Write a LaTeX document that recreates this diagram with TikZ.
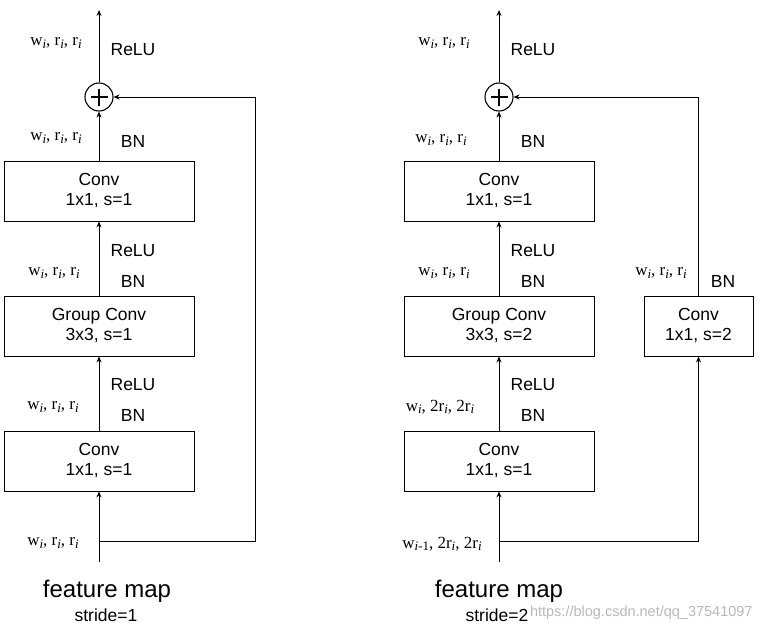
\documentclass[tikz,border=0pt]{standalone}
\usepackage{fontspec}
\setmainfont{Liberation Sans}
\newfontfamily\serifw{Liberation Serif}
\usetikzlibrary{arrows.meta}
\newcommand\sbi[1]{\raisebox{-0.3ex}{\fontsize{13}{13}\selectfont\textit{#1}}}
\newcommand\sbim{\raisebox{-0.3ex}{\fontsize{13}{13}\selectfont\textit{i}-1}}
\newcommand\wrr{w\sbi{i}, r\sbi{i}, r\sbi{i}}
\begin{document}
\begin{tikzpicture}[x=1pt,y=-1pt,
  line width=0.9pt,
  arr/.style={-{Stealth[length=6pt,width=5pt]}},
  blk/.style={draw,rectangle,minimum width=190pt,minimum height=60pt,align=center,font=\fontsize{17.5}{20}\selectfont,inner sep=0pt},
  sblk/.style={blk,minimum width=109pt},
  plusnode/.style={draw,circle,minimum size=28pt,inner sep=0pt,line width=1.1pt},
  wlab/.style={font=\serifw\fontsize{17}{18}\selectfont,inner sep=0pt},
  olab/.style={font=\fontsize{17.5}{18}\selectfont,inner sep=0pt},
  fm/.style={font=\fontsize{24}{26}\selectfont,inner sep=0pt},
  wm/.style={font=\fontsize{14.5}{16}\selectfont,text=black!28,inner sep=0pt}
]
\useasboundingbox (0,0) rectangle (761,632);

% ---------- left block (stride=1) ----------
\node[blk] (L1) at (99,191) {Conv\\1x1, s=1};
\node[blk] (L2) at (99,326) {Group Conv\\3x3, s=1};
\node[blk] (L3) at (99,461) {Conv\\1x1, s=1};
\node[plusnode] (PL) at (99,97) {};
\draw[line width=1.3pt] ([xshift=-8.5pt]PL.center) -- ([xshift=8.5pt]PL.center)
      ([yshift=-8.5pt]PL.center) -- ([yshift=8.5pt]PL.center);
\coordinate (inL) at (99,562);
\coordinate (jL) at (99,541);
\coordinate (outL) at (99,10);
\coordinate (cL) at (255,541);

\draw[arr] (inL) -- (L3.south);
\draw[arr] (L3.north) -- (L2.south);
\draw[arr] (L2.north) -- (L1.south);
\draw[arr] (L1.north) -- (PL.south);
\draw[arr] (PL.north) -- (outL);
\draw[arr] (jL) -- (cL) |- (PL.east);

\node[wlab] (wl1) at (56,43) {\wrr};
\node[olab] (rl1) at (133,50) {ReLU};
\node[wlab] (wl2) at (56,138) {\wrr};
\node[olab] (bl1) at (133,141) {BN};
\node[olab] (rl2) at (133,251) {ReLU};
\node[wlab] (wl3) at (54,273) {\wrr};
\node[olab] (bl2) at (133,281) {BN};
\node[olab] (rl3) at (133,385) {ReLU};
\node[wlab] (wl4) at (53,407) {\wrr};
\node[olab] (bl3) at (133,415) {BN};
\node[wlab] (wl5) at (53,543) {\wrr};
\node[fm] (fmL) at (107,591) {feature map};
\node[olab] (sL) at (106,615) {stride=1};

% ---------- right block (stride=2) ----------
\node[blk] (R1) at (499,191) {Conv\\1x1, s=1};
\node[blk] (R2) at (499,326) {Group Conv\\3x3, s=2};
\node[blk] (R3) at (499,461) {Conv\\1x1, s=1};
\node[sblk] (RB) at (698.5,326) {Conv\\1x1, s=2};
\node[plusnode] (PR) at (499,97) {};
\draw[line width=1.3pt] ([xshift=-8.5pt]PR.center) -- ([xshift=8.5pt]PR.center)
      ([yshift=-8.5pt]PR.center) -- ([yshift=8.5pt]PR.center);
\coordinate (inR) at (499,562);
\coordinate (jR) at (499,541);
\coordinate (outR) at (499,10);

\draw[arr] (inR) -- (R3.south);
\draw[arr] (R3.north) -- (R2.south);
\draw[arr] (R2.north) -- (R1.south);
\draw[arr] (R1.north) -- (PR.south);
\draw[arr] (PR.north) -- (outR);
\draw[arr] (jR) -| (RB.south);
\draw[arr] (RB.north) |- (PR.east);

\node[wlab] (wr1) at (444,43) {\wrr};
\node[olab] (rr1) at (533,50) {ReLU};
\node[wlab] (wr2) at (441,140) {\wrr};
\node[olab] (br1) at (533,141) {BN};
\node[olab] (rr2) at (533,251) {ReLU};
\node[wlab] (wr3) at (444,273) {\wrr};
\node[olab] (br2) at (533,281) {BN};
\node[olab] (rr3) at (533,385) {ReLU};
\node[wlab] (wr4) at (440,407) {w\sbi{i}, 2r\sbi{i}, 2r\sbi{i}};
\node[olab] (br3) at (533,415) {BN};
\node[wlab] (wr5) at (442,544) {w\sbim, 2r\sbi{i}, 2r\sbi{i}};
\node[wlab] (wrb) at (661,273) {\wrr};
\node[olab] (brb) at (723,281) {BN};
\node[fm] (fmR) at (499,591) {feature map};
\node[olab] (sR) at (497,615) {stride=2};
\node[wm] (wmark) [anchor=east] at (753,613) {https://blog.csdn.net/qq\_37541097};
\end{tikzpicture}
\end{document}
